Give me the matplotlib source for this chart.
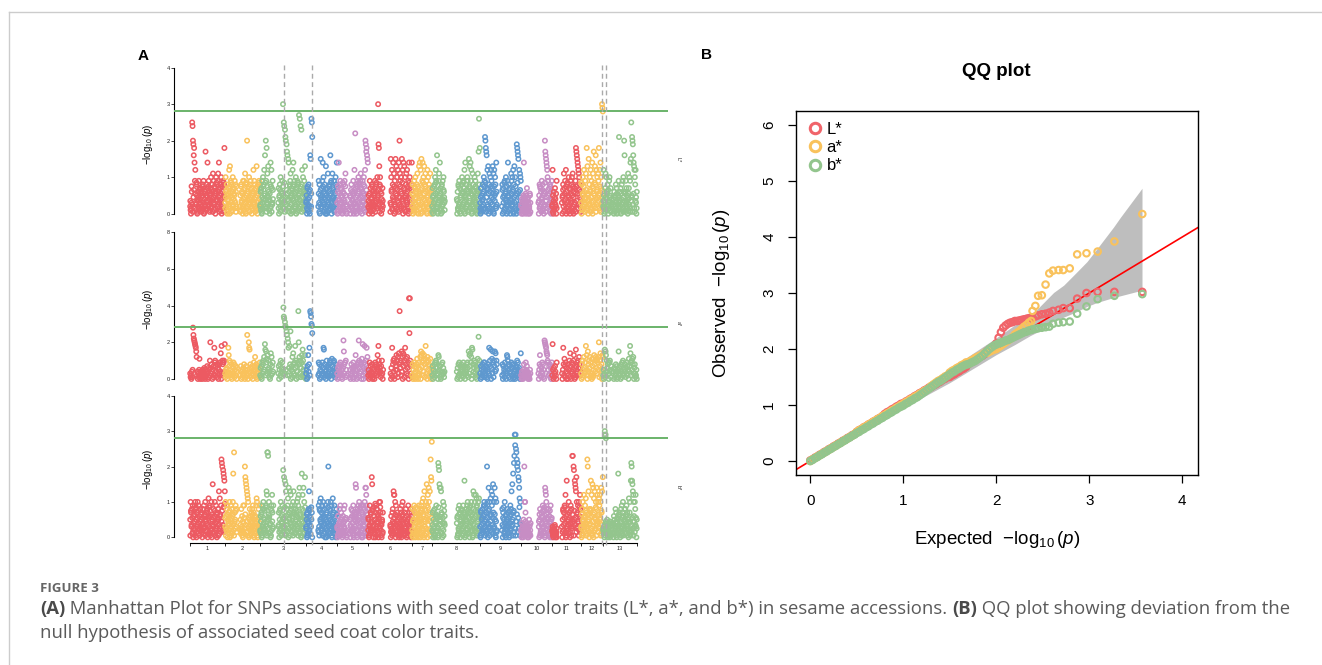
import numpy as np
import matplotlib
matplotlib.use('Agg')
import matplotlib.pyplot as plt
from matplotlib.lines import Line2D
from matplotlib import transforms

W, H, DPI = 1322, 665, 100

plt.rcParams['font.family'] = ['Liberation Sans', 'DejaVu Sans']
plt.rcParams['mathtext.fontset'] = 'custom'
plt.rcParams['mathtext.rm'] = 'Liberation Sans'
plt.rcParams['mathtext.it'] = 'Liberation Sans:italic'
plt.rcParams['mathtext.bf'] = 'Liberation Sans:bold'

# ---------------- Manhattan data ----------------
CHROMS = [str(i) for i in range(1, 14)]
CHROM_LEN = [35, 35, 46, 31, 31, 44, 20, 48, 41, 31, 29, 22, 34]
PALETTE = ['#EC5A62', '#F9C25C', '#93C58D', '#5E98CF', '#C78DC4']
TRAITS = ['L*', 'a*', 'b*']
THRESHOLD = 2.82
SIG_POS = [93.7, 121.7, 412.0, 415.7]   # highlighted loci (genome units)

# one character per SNP, spread evenly along its chromosome;
# value = LEVELS.index(ch) / 10, a space is a stretch without SNPs
LEVELS = "0123456789abcdefghijklmnopqrstuvwxyzABCDEFGHIJ"

L_STAR = [
    "21036pokjgie9c3185046291734726158390462h5183e72946157a2684b3917506a4829b6e35718a0462958i3",
    "3a62805472c0d593816a247593862" + " " * 8 + "2518362094917b3058k4261a48392705" + "16c3948271d50382947",
    "2617093a48c5g2k9i3b5d61408e2c7394" + " " * 12 + "370582a16493u5po3nlk1jhg4fe6289b0571c4e83926a0749185r4q2o6n8c3a1695d27",
    "3507148260gf2qpl" + " " * 14 + "293805f4729e3a61840d5072b36185g2903b4729164a83e",
    "3061e4829375102648391b520" + " " * 7 + "150382641906c3m7208591a63849b7206938a51ckjhigfe",
    "25039172483061527938264a5ujid8a6304172" + " " * 18 + "3fa6c18e4b092f7d5a1c3e8kb96a2f4c0e7d1a58b3c6290e4a7318e",
    "28051937a4618b203d6e5c0f79e2a4d81b6390c5a2871b4063",
    "2705318a4c92g6039b5e71048294a631" + " " * 29 + "4061829370582a61937c0e5482a961f3d7e9c05b2846a3917506b2hq8i",
    "307152846a19lkihg7c2d08b6a3c917d4b0c5a82e6" + " " * 12 + "2807351946a3029e5817304b92a6c08d3a510jihgf6c2ba9",
    "2041305e21430527140312053" + " " * 20 + "30582716493815026khgfedca95273816049",
    "2c5061374209" + " " * 12 + "30582b7194c063825a1704938a5b2061739ihgfedcba8264",
    "3081a52c6394b1i2d50f48a6c193e0b7h25d8g4c6a3b9i5c1e7a2uts",
    "2c5037b1a6482039a51742" + " " * 4 + "40615283704159l3627048193a6kg16937250b47a29efp5lkjgedca8c306",
]

A_STAR = [
    "3120415somlkjihfc240315b2041320514263051427306152ak638405172h9a2741836058394e0i2a839a4j",
    "31526042hd7a3951804269381527406" + " " * 8 + "27041536284051732o503khg4816273052947c518304726159",
    "26170938a4c5jg2f9b3d5a61408e2c7394" + " " * 12 + "370582a164935Dyx3vts5qo2mkh62i8q0571c4e8392i6a07491Bk8c3a169d2ga5173d20",
    "35071d48h2BAyutp" + " " * 14 + "2938051472936hg184205a7236185a2903b4729a6418352",
    "3061748293751026lf8391a52" + " " * 7 + "150382641906735d7208591la638490b7j2069i38a5h1c4",
    "250391724830615207938264d5ia8364172a305" + " " * 18 + "3062h18a4b09257d5a1c3e8B96a2f4c0e7d1ah58b3c6290IpIa7318",
    "2805193704618b2039625c0fd79e2a4d81bi6390c5a2871b4063",
    "270531894a92630dc57710482946314" + " " * 29 + "40618293705824619373065482961f3d7e9c0hg2846a3917506b2n8a3",
    "3071528469193527160483h2a7g06b3f91a7f4e5a8" + " " * 12 + "280735194603dca5817304692860835105276a39516402e",
    "2041305821439527140312053" + " " * 20 + "3058d27164938150lkjihfeda95273816049",
    "2j5061374209" + " " * 12 + "305h82b71940630825a1e7049385ad2061g7394a26c8264",
    "3081a52c6394i2d50f48a6c19320b7125d8a4c6a3b95ck1a7e2580dc",
    "2503g1fd4a6489039a5174" + " " * 4 + "4061528370415f3627048193a62584816937250b47ie29a5b8c306831250",
]

B_STAR = [
    "5a7381904629a85073a19462835720481936a5274801b639162a05f3816a429307585d1b639mlk2jihgd",
    "3a628905472a0593816ai2o475938" + " " * 8 + "251836209491khgfedcba30582617483927051639ba5038294",
    "26170938a4852193dcoon5a6140892c739" + " " * 12 + "370582a16493j5h3g1fd6289b0e57d4c83926ad74918572a3b9c4e16503i8c3e1a6h52",
    "3507148d26813570" + " " * 14 + "2938a5b47293a61840950724ak36185a2903b4729164083",
    "3061248293751026483915520" + " " * 7 + "150382641906735fe7208591a6384907206938a5eec9158",
    "250391724hf83061520793826405a3a7240517" + " " * 18 + "30621784dcc4a092673514031827096a42517318604259231748067",
    "28051937046185203962507948a2b60d385a1f90c5ea2d7mhgr",
    "270531804692630lkjfe5ed7104a2946" + " " * 29 + "4061829370582461937g0654829a61830794a6205d8c2a6c3b917a5b62",
    "3071528469a935271ka04e83a6b2d9c1f7a3e5b0a2" + " " * 12 + "2807351a4603528173046928d3f5i7lntqtpomkljhgeb4a2",
    "20413052kaa72143012053124" + " " * 20 + "3058127164938150edca85273816049350",
    "231012320110" + " " * 12 + "305827194c06g3825a17049385nn3kj5gfedha7394a26c82",
    "3081a52c6394b173mk2d50848g6c1f3e0b7d25a8e4c6a3b9c5a1e7d2h",
    "2130utts4251032140314" + " " * 4 + "4061528370415i36270481937a62584816937250b47a2glkgfdca63a8c305",
]

# the dense low-lying SNPs of L* and b*, read at half steps: value = (digit + 0.5) / 10
L_STAR_LOW = [
    "31720461528034162507315026143720516304271583146035271804",
    "1460352718042653107" + " " * 5 + "07351264081537204613522604173581",
    "260417358102643517026" + " " * 8 + "14603527180426531074250735126408153720461352",
    "317204615" + " " * 11 + "502614372051630427158314603527",
    "0735126408153720" + " " * 5 + "46135226041735810264351702641",
    "315204716250381462071523" + " " * 11 + "02614372051630427158314603527180426",
    "53107425073512640815372046135226",
    "041735810264351702643" + " " * 19 + "3172046152803416250731502614372051630",
    "140352718042653107425073512" + " " * 8 + "640815372046135226041735810264",
    "2031402513042150" + " " * 13 + "3172046152803416250731",
    "20314251" + " " * 8 + "460352718042653107425073512640",
    "81537204613522604173581026435170264",
    "31204152631402" + " " * 3 + "20413502413052140352031452013402510341",
]
B_STAR_LOW = [
    "07351264081537204613522604173581026435170264503261473819",
    "5026143720516304271" + " " * 5 + "31204152631402503241630251403152",
    "146035271804265310742" + " " * 8 + "31720461528034162507315026143720516304271583",
    "260417358" + " " * 11 + "107425073512640815372046135226",
    "2031402513042150" + " " * 5 + "35172026460417358102643517026",
    "503261473819204615280341" + " " * 11 + "31204152631402503241630251403152041",
    "04173581026435170264072518360415",
    "317204615280341625073" + " " * 19 + "5026143720516304271583146035271804265",
    "073512640815372046135226041" + " " * 8 + "358102643517026430712046152803",
    "1203102413021030" + " " * 13 + "4601352718042653107425",
    "10213012" + " " * 8 + "173581026435170264073512640815",
    "26043517026463172046152803416250731",
    "21304213021403" + " " * 3 + "31204152631402503241630251403152041352",
]

# ---------------- QQ data ----------------
QQ_EXP_BULK = np.linspace(0, 2.375, 96)
QQ_EXP_TAIL = [2.39, 2.42, 2.45, 2.49, 2.53, 2.57, 2.61, 2.67, 2.72, 2.79, 2.87, 2.97, 3.09, 3.27, 3.57]

L_OBS = [0.01, 0.03, 0.06, 0.08, 0.11, 0.13, 0.16, 0.18, 0.21, 0.23, 0.26, 0.28, 0.31, 0.33, 0.36, 0.38,
         0.41, 0.43, 0.46, 0.48, 0.52, 0.55, 0.57, 0.60, 0.62, 0.65, 0.67, 0.70, 0.72, 0.75, 0.77, 0.80,
         0.84, 0.87, 0.89, 0.92, 0.94, 0.97, 0.99, 1.02, 1.03, 1.06, 1.08, 1.11, 1.13, 1.16, 1.18, 1.21,
         1.23, 1.26, 1.28, 1.31, 1.32, 1.35, 1.37, 1.40, 1.42, 1.45, 1.47, 1.50, 1.50, 1.53, 1.55, 1.58,
         1.60, 1.63, 1.65, 1.68, 1.73, 1.76, 1.78, 1.81, 1.83, 1.86, 1.88, 1.91, 1.96, 1.99, 2.02, 2.05,
         2.10, 2.20, 2.30, 2.38, 2.42, 2.45, 2.47, 2.48, 2.50, 2.50, 2.51, 2.52, 2.53, 2.54, 2.55, 2.55,
         2.56, 2.58, 2.60, 2.62, 2.63, 2.65, 2.68, 2.70, 2.73, 2.73, 2.90, 3.00, 3.02, 3.02, 3.02]
A_OBS = [0.00, 0.03, 0.05, 0.08, 0.10, 0.13, 0.15, 0.18, 0.20, 0.23, 0.25, 0.28, 0.30, 0.33, 0.35, 0.38,
         0.40, 0.43, 0.45, 0.48, 0.52, 0.55, 0.57, 0.60, 0.62, 0.65, 0.67, 0.70, 0.72, 0.75, 0.77, 0.80,
         0.82, 0.85, 0.87, 0.90, 0.92, 0.95, 0.97, 1.00, 1.02, 1.05, 1.07, 1.10, 1.12, 1.15, 1.17, 1.20,
         1.22, 1.25, 1.27, 1.30, 1.34, 1.37, 1.40, 1.43, 1.45, 1.48, 1.51, 1.53, 1.58, 1.61, 1.63, 1.66,
         1.68, 1.71, 1.73, 1.76, 1.76, 1.79, 1.81, 1.84, 1.86, 1.88, 1.90, 1.93, 1.93, 1.95, 1.97, 1.99,
         2.00, 2.03, 2.06, 2.09, 2.12, 2.15, 2.18, 2.21, 2.26, 2.29, 2.32, 2.36, 2.40, 2.43, 2.47, 2.50,
         2.68, 2.77, 2.95, 2.96, 3.15, 3.35, 3.40, 3.41, 3.41, 3.44, 3.69, 3.71, 3.74, 3.92, 4.41]
B_OBS = [0.00, 0.02, 0.05, 0.07, 0.10, 0.12, 0.15, 0.17, 0.20, 0.22, 0.25, 0.27, 0.30, 0.32, 0.35, 0.37,
         0.40, 0.42, 0.45, 0.47, 0.50, 0.52, 0.55, 0.57, 0.60, 0.62, 0.65, 0.67, 0.70, 0.72, 0.75, 0.77,
         0.80, 0.82, 0.85, 0.87, 0.90, 0.92, 0.95, 0.97, 0.99, 1.02, 1.04, 1.07, 1.09, 1.12, 1.14, 1.17,
         1.20, 1.23, 1.26, 1.29, 1.32, 1.35, 1.38, 1.41, 1.43, 1.46, 1.49, 1.52, 1.55, 1.58, 1.60, 1.63,
         1.65, 1.68, 1.70, 1.72, 1.73, 1.75, 1.77, 1.79, 1.82, 1.85, 1.88, 1.92, 1.96, 2.00, 2.03, 2.06,
         2.08, 2.10, 2.11, 2.13, 2.15, 2.16, 2.18, 2.20, 2.22, 2.24, 2.26, 2.28, 2.30, 2.31, 2.33, 2.34,
         2.35, 2.36, 2.37, 2.38, 2.39, 2.40, 2.45, 2.47, 2.48, 2.49, 2.63, 2.76, 2.89, 2.95, 2.98]
QQ_COLORS = ['#F0646A', '#F9C25C', '#93C58D']

# confidence band
BAND_X = [0.0, 1.0, 1.5, 1.8, 2.0, 2.2, 2.366, 2.474, 2.617, 2.725, 2.857, 2.975, 3.083, 3.262, 3.334, 3.567]
BAND_LO = [0.0, 0.95, 1.4, 1.7, 1.9, 2.08, 2.24, 2.33, 2.50, 2.57, 2.66, 2.76, 2.83, 2.92, 2.95, 3.05]
BAND_HI = [0.02, 1.1, 1.65, 1.98, 2.2, 2.43, 2.59, 2.77, 3.01, 3.14, 3.36, 3.56, 3.79, 4.18, 4.35, 4.87]

CHROM_START = np.cumsum([0] + CHROM_LEN[:-1])


def decode(c, code, half=False):
    """Turn one chromosome string into SNP positions and -log10(p) values"""
    xs, ys = [], []
    n = len(code)
    for i, ch in enumerate(code):
        if ch == ' ':
            continue
        xs.append(CHROM_START[c] + (i + 0.5) * CHROM_LEN[c] / n)
        ys.append((LEVELS.index(ch) + (0.5 if half else 0)) / 10)
    return xs, ys


def px_rect(left, top, right, bottom):
    return [left / W, (H - bottom) / H, (right - left) / W, (bottom - top) / H]


fig = plt.figure(figsize=(W / DPI, H / DPI), dpi=DPI)

# frame around the figure area
fig.add_artist(Line2D([9 / W, 1], [1 - 12 / H, 1 - 12 / H], color='#CCCCCC', lw=1))
fig.add_artist(Line2D([9 / W, 9 / W], [0, 1 - 12 / H], color='#CCCCCC', lw=1))

# ---------------- Panel A: Manhattan plots ----------------
panels = [
    (L_STAR, L_STAR_LOW, px_rect(174, 64, 668, 221), (-0.2, 4.1), [0, 1, 2, 3, 4], 0.39),
    (A_STAR, None, px_rect(174, 228.6, 668, 386.3), (-0.4, 8.2), [0, 2, 4, 6, 8], 0.40),
    (B_STAR, B_STAR_LOW, px_rect(174, 392.2, 668, 543), (-0.16, 4.1), [0, 1, 2, 3, 4], 0.37),
]
man_axes = []
for k, (codes, low, rect, ylim, yticks, tag_y) in enumerate(panels):
    ax = fig.add_axes(rect)
    for c, code in enumerate(codes):
        xs, ys = decode(c, code)
        if low is not None:
            lx, ly = decode(c, low[c], half=True)
            xs, ys = xs + lx, ys + ly
        ax.scatter(xs, ys, s=10, facecolors='none', edgecolors=PALETTE[c % 5],
                   linewidths=1.1, clip_on=False, zorder=2)
    ax.axhline(THRESHOLD, color='#6AB36A', lw=1.4, zorder=3)
    ax.set_xlim(-16, 478)
    ax.set_ylim(*ylim)
    ax.set_yticks(yticks)
    ax.spines['left'].set_bounds(yticks[0], yticks[-1])
    ax.spines['left'].set_linewidth(0.8)
    for s in ['top', 'right']:
        ax.spines[s].set_visible(False)
    ax.tick_params(axis='y', labelsize=4, length=2.2, width=0.6, pad=0.8, colors='#222222')
    ax.set_ylabel(r'$-\log_{10}(\mathit{p})$', fontsize=7)
    ax.yaxis.set_label_coords(-0.038, 0.49)
    ax.text(1.02, tag_y, TRAITS[k], transform=ax.transAxes, rotation=-90,
            fontsize=4, ha='center', va='center', color='#222222')
    if k < 2:
        ax.spines['bottom'].set_visible(False)
        ax.set_xticks([])
    else:
        bounds = list(CHROM_START) + [CHROM_START[-1] + CHROM_LEN[-1]]
        ax.spines['bottom'].set_bounds(bounds[0], bounds[-1])
        ax.spines['bottom'].set_linewidth(0.8)
        ax.set_xticks(bounds)
        ax.set_xticklabels([])
        ax.set_xticks(CHROM_START + np.array(CHROM_LEN) / 2, minor=True)
        ax.set_xticklabels(CHROMS, minor=True)
        ax.tick_params(axis='x', which='major', length=2.2, width=0.6)
        ax.tick_params(axis='x', which='minor', length=0, labelsize=4, pad=2.5, colors='#222222')
    man_axes.append(ax)

# dashed lines at highlighted loci, crossing all three panels
tr = transforms.blended_transform_factory(man_axes[0].transData, fig.transFigure)
for pos in SIG_POS:
    fig.add_artist(Line2D([pos, pos], [1 - 65 / H, 1 - 545 / H], transform=tr,
                          color='#AAAAAA', lw=1.0, dashes=(3.5, 2.5), zorder=1))

fig.text(143 / W, 1 - 56 / H, 'A', fontsize=11, fontweight='bold', ha='center', va='center')

# ---------------- Panel B: QQ plot ----------------
axq = fig.add_axes(px_rect(795.7, 111, 1197.7, 475))
axq.fill_between(BAND_X, BAND_LO, BAND_HI, color='#BEBEBE', lw=0, zorder=1)
axq.plot([-0.3, 4.5], [-0.3, 4.5], color='red', lw=1.2, zorder=2)
for obs, col in zip([L_OBS, A_OBS, B_OBS], QQ_COLORS):
    ex = np.concatenate([QQ_EXP_BULK, QQ_EXP_TAIL])
    axq.scatter(ex, obs, s=22, facecolors='none', edgecolors=col, linewidths=1.5, zorder=3)
axq.set_xlim(-0.157, 4.166)
axq.set_ylim(-0.25, 6.25)
axq.set_xticks([0, 1, 2, 3, 4])
axq.set_yticks([0, 1, 2, 3, 4, 5, 6])
for s in axq.spines.values():
    s.set_linewidth(1.0)
axq.tick_params(length=6, width=0.9, labelsize=11, pad=8)
plt.setp(axq.get_yticklabels(), rotation=90, va='center')
axq.set_xlabel(r'Expected  $-\log_{10}(\mathit{p})$', fontsize=13.5)
axq.set_ylabel(r'Observed  $-\log_{10}(\mathit{p})$', fontsize=13.5)
axq.xaxis.label.set_va('center')
axq.yaxis.label.set_va('center')
axq.xaxis.set_label_coords(0.5, -(539 - 475) / 364)
axq.yaxis.set_label_coords(-(795.7 - 722) / 402, 0.5)

handles = [Line2D([], [], marker='o', ls='', mfc='none', mec=c, mew=2.2, ms=7.5) for c in QQ_COLORS]
axq.legend(handles, TRAITS, loc='upper left', frameon=False, fontsize=12,
           handletextpad=0.2, labelspacing=0.2, borderaxespad=0.25, handlelength=1.0)

fig.text(996.7 / W, 1 - 72 / H, 'QQ plot', fontsize=13.5, fontweight='bold', ha='center', va='center')
fig.text(707 / W, 1 - 55 / H, 'B', fontsize=11, fontweight='bold', ha='center', va='center')

# ---------------- Caption ----------------
CAP_FONT = 'Open Sans'
CAP_SIZE = 13.3
fig.text(40 / W, 1 - 588 / H, 'FIGURE 3', fontsize=9.5, fontweight='bold', color='#666666',
         family=CAP_FONT, va='center')

renderer = fig.canvas.get_renderer()


def caption_line(y_px, parts):
    x = 40 / W
    for txt, bold in parts:
        t = fig.text(x, 1 - y_px / H, txt, fontsize=CAP_SIZE, family=CAP_FONT,
                     fontweight='bold' if bold else 'normal',
                     color='#4A4A4A' if bold else '#5A5A5A', va='center')
        x += t.get_window_extent(renderer=renderer).width / W


caption_line(609, [('(A)', True),
                   (' Manhattan Plot for SNPs associations with seed coat color traits (L*, a*, and b*) '
                    'in sesame accessions. ', False),
                   ('(B)', True),
                   (' QQ plot showing deviation from the', False)])
caption_line(633, [('null hypothesis of associated seed coat color traits.', False)])

fig.savefig('out.png', dpi=DPI)
